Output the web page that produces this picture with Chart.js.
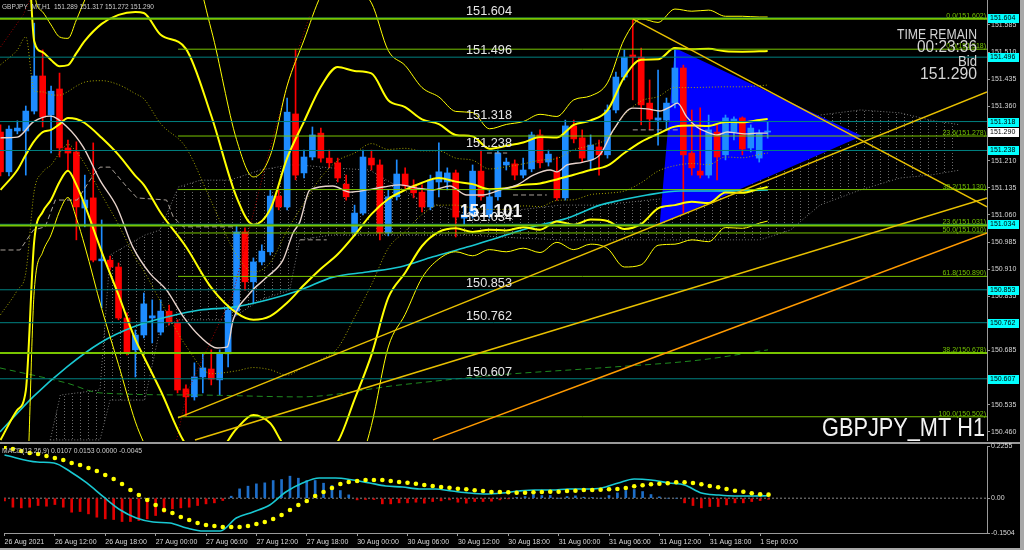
<!DOCTYPE html>
<html><head><meta charset="utf-8"><title>GBPJPY_MT H1</title>
<script src="https://cdn.jsdelivr.net/npm/chart.js@4.4.1/dist/chart.umd.min.js"></script>
<style>
html,body{margin:0;padding:0;background:#000;}
body{width:1024px;height:550px;position:relative;overflow:hidden;}
canvas{position:absolute;left:0;}
#c1{top:0;} #c2{top:441px;}
#fr{position:absolute;left:1020px;top:0;width:4px;height:550px;background:#a8a8a8;}
#fb{position:absolute;left:0;top:548px;width:1024px;height:2px;background:#a8a8a8;}
</style></head><body>
<canvas id="c1" width="1024" height="441" style="width:1024px;height:441px"></canvas>
<canvas id="c2" width="1024" height="109" style="width:1024px;height:109px"></canvas>
<div id="fr"></div><div id="fb"></div>
<script>
const FONT = '"Liberation Sans", Arial, sans-serif';
// ---------- time axis ----------
const tickIdx = [0,6,12,18,24,30,36,42,48,54,60,66,72,78,84,90];
const tickLabels = ["26 Aug 2021","26 Aug 12:00","26 Aug 18:00","27 Aug 00:00","27 Aug 06:00","27 Aug 12:00","27 Aug 18:00","30 Aug 00:00","30 Aug 06:00","30 Aug 12:00","30 Aug 18:00","31 Aug 00:00","31 Aug 06:00","31 Aug 12:00","31 Aug 18:00","1 Sep 00:00"];
const X_MIN = -0.06, X_MAX = 117.02;
// ---------- candles (H1) ----------
const opens = [151.289,151.179,151.292,151.292,151.347,151.444,151.336,151.408,151.245,151.234,151.079,151.107,150.933,150.935,150.916,150.775,150.687,150.728,150.775,150.736,150.794,150.761,150.579,150.557,150.612,150.634,150.604,150.676,150.794,151.013,150.875,150.930,150.958,151.112,151.082,151.339,151.176,151.220,151.286,151.217,151.204,151.145,151.010,151.065,151.217,151.198,151.010,151.110,151.173,151.140,151.123,151.082,151.151,151.151,151.176,151.051,151.060,151.181,151.060,151.110,151.198,151.201,151.170,151.187,151.281,151.206,151.179,151.107,151.306,151.273,151.212,151.248,151.226,151.350,151.441,151.502,151.496,151.369,151.322,151.322,151.369,151.466,151.231,151.181,151.170,151.289,151.226,151.289,151.328,151.245,151.217,151.289];
const highs = [151.309,151.306,151.320,151.361,151.590,151.516,151.416,151.452,151.267,151.262,151.170,151.259,151.046,150.946,150.927,150.789,150.742,150.844,150.825,150.825,150.811,150.770,150.590,150.651,150.678,150.687,150.687,150.811,151.032,151.024,150.941,150.977,151.129,151.129,151.383,151.518,151.239,151.303,151.300,151.239,151.217,151.170,151.087,151.239,151.239,151.212,151.129,151.212,151.190,151.157,151.143,151.170,151.259,151.190,151.184,151.087,151.198,151.239,151.129,151.239,151.217,151.212,151.217,151.289,151.295,151.239,151.220,151.322,151.322,151.295,151.281,151.267,151.364,151.455,151.516,151.602,151.521,151.433,151.460,151.383,151.516,151.474,151.350,151.356,151.336,151.309,151.336,151.331,151.331,151.309,151.295,151.317];
const lows = [151.168,151.168,151.284,151.170,151.339,151.303,151.231,151.220,151.184,150.991,151.027,150.930,150.803,150.908,150.770,150.673,150.612,150.720,150.706,150.728,150.756,150.568,150.502,150.548,150.568,150.590,150.562,150.640,150.783,150.852,150.817,150.922,150.949,151.074,151.074,151.157,151.162,151.212,151.206,151.190,151.151,151.101,151.002,151.060,151.184,150.991,151.002,151.101,151.129,151.107,151.068,151.074,151.110,151.129,150.999,151.032,151.051,151.101,151.051,151.101,151.184,151.157,151.162,151.179,151.190,151.195,151.101,151.101,151.259,151.206,151.184,151.170,151.217,151.342,151.433,151.378,151.309,151.295,151.253,151.295,151.356,151.065,151.170,151.162,151.162,151.157,151.212,151.267,151.226,151.234,151.206,151.272];
const closes = [151.179,151.297,151.300,151.347,151.444,151.331,151.402,151.245,151.231,151.082,151.101,150.935,150.938,150.916,150.775,150.681,150.728,150.814,150.781,150.794,150.764,150.576,150.557,150.612,150.637,150.606,150.676,150.797,151.013,150.875,150.930,150.960,151.112,151.082,151.344,151.170,151.220,151.281,151.217,151.204,151.162,151.110,151.065,151.220,151.198,151.010,151.110,151.173,151.140,151.121,151.082,151.157,151.179,151.176,151.054,151.060,151.181,151.110,151.110,151.231,151.206,151.170,151.184,151.281,151.204,151.228,151.107,151.306,151.270,151.217,151.253,151.226,151.350,151.441,151.496,151.496,151.364,151.325,151.328,151.369,151.466,151.226,151.190,151.170,151.295,151.220,151.328,151.325,151.242,151.300,151.286,151.290];
// ---------- Bollinger bands (read at bar positions) ----------
const bbX = [0,2,3,4,5,6,7,8,9,10,12,14,16,17,19,22,25,28,30,32,34,36,38,40,42,44,46,48,50,52,54,56,58,60,62,64,66,68,70,72,74,76,78,80,82,84,86,88,90,91];
const bbMid = [151.129,151.184,151.226,151.264,151.289,151.295,151.311,151.328,151.325,151.314,151.273,151.226,151.168,151.143,151.066,150.972,150.859,150.789,150.770,150.780,150.817,150.866,150.911,150.951,151.004,151.062,151.104,151.129,151.149,151.162,151.152,151.145,151.131,151.134,151.143,151.147,151.158,151.171,151.184,151.196,151.231,151.262,151.284,151.304,151.307,151.306,151.317,151.316,151.322,151.325];
const bbUp1 = [151.475,151.516,151.552,151.402,151.400,151.392,151.391,151.401,151.416,151.427,151.431,151.420,151.395,151.381,151.312,151.246,151.097,150.949,150.902,150.928,151.017,151.092,151.163,151.210,151.231,151.257,151.241,151.244,151.237,151.237,151.217,151.211,151.187,151.193,151.201,151.211,151.216,151.240,151.252,151.272,151.336,151.375,151.387,151.412,151.412,151.413,151.414,151.414,151.417,151.419];
const bbLo1 = [150.784,150.852,150.900,151.126,151.178,151.198,151.231,151.255,151.234,151.201,151.116,151.033,150.941,150.905,150.820,150.698,150.621,150.629,150.638,150.632,150.617,150.640,150.660,150.692,150.777,150.867,150.968,151.014,151.061,151.087,151.087,151.079,151.075,151.075,151.085,151.083,151.100,151.102,151.116,151.120,151.126,151.149,151.181,151.196,151.202,151.199,151.220,151.218,151.227,151.231];
const bbUp2 = [151.820,151.847,151.878,151.540,151.510,151.488,151.471,151.474,151.507,151.541,151.588,151.613,151.621,151.618,151.558,151.519,151.334,151.109,151.033,151.076,151.217,151.318,151.414,151.469,151.458,151.451,151.377,151.358,151.324,151.311,151.281,151.277,151.243,151.251,151.260,151.275,151.274,151.309,151.321,151.349,151.441,151.489,151.490,151.521,151.518,151.519,151.512,151.511,151.512,151.513];
const bbLo2 = [150.438,150.521,150.574,150.988,151.068,151.102,151.151,151.182,151.143,151.087,150.958,150.839,150.715,150.668,150.574,150.425,150.384,150.469,150.507,150.484,150.417,150.414,150.408,150.433,150.550,150.673,150.831,150.900,150.974,151.013,151.023,151.013,151.019,151.017,151.026,151.019,151.042,151.033,151.047,151.043,151.021,151.035,151.078,151.087,151.096,151.093,151.122,151.121,151.132,151.137];
const bbUp3 = [152.166,152.179,152.205,151.679,151.621,151.585,151.552,151.548,151.599,151.654,151.746,151.807,151.848,151.856,151.804,151.793,151.572,151.268,151.165,151.224,151.417,151.543,151.666,151.728,151.686,151.646,151.514,151.473,151.412,151.386,151.346,151.343,151.298,151.310,151.318,151.338,151.332,151.378,151.389,151.425,151.546,151.602,151.592,151.629,151.623,151.626,151.609,151.609,151.607,151.607];
const bbLo3 = [150.093,150.189,150.247,150.849,150.957,151.005,151.070,151.108,151.051,150.974,150.801,150.646,150.488,150.430,150.328,150.151,150.146,150.310,150.375,150.336,150.217,150.189,150.157,150.174,150.322,150.478,150.695,150.785,150.886,150.938,150.958,150.947,150.964,150.958,150.968,150.956,150.984,150.964,150.979,150.967,150.916,150.922,150.976,150.979,150.991,150.986,151.025,151.023,151.037,151.043];
// ---------- moving averages / ichimoku lines ----------
const maWhiteX = [0,2,3.9,5.9,7.9,9.8,11.8,13.8,15.7,17.7,19.7,21.7,23.7,25.7,26.9,27.6,29.6,31.6,33.5,34.7,35.5,36.7,39.4,41.5,43.5,45.4,47.4,49.4,51.3,53.3,55.3,57.2,59.3,61.3,63.2,65.2,66,67.2,69.1,71.1,72.7,75,76.7,78.2,79.4,80.3,81.4,82.6,83.8,85,86.2,87.4,88.6,89.7,91];
const maWhiteY = [151.273,151.275,151.317,151.333,151.303,151.248,151.156,151.082,150.971,150.899,150.852,150.778,150.723,150.692,150.695,150.770,150.844,150.888,150.935,151.010,151.040,151.129,151.140,151.123,151.129,151.137,151.143,151.134,151.129,151.140,151.115,151.115,151.129,151.143,151.170,151.184,151.179,151.198,151.206,151.226,151.295,151.355,151.353,151.347,151.358,151.369,151.331,151.303,151.289,151.281,151.289,151.286,151.284,151.286,151.286];
const maCyanX = [-0.06,3.86,7.89,11.8,15.72,19.75,23.67,27.58,31.61,35.53,39.44,43.48,47.39,51.3,55.34,59.25,63.17,67.2,71.11,72.66,76.69,80.6,84.5,91.04];
const maCyanY = [150.460,150.557,150.640,150.706,150.750,150.778,150.797,150.805,150.825,150.852,150.888,150.902,150.916,150.944,150.971,150.999,151.027,151.051,151.087,151.096,151.115,151.126,151.126,151.129];
const maGreenX = [-0.06,7.89,11.8,23.67,35.53,47.39,59.25,71.11,83.0,91.04];
const maGreenY = [150.637,150.595,150.568,150.562,150.557,150.590,150.618,150.637,150.659,150.687];
const kijunX = [0,2.3,3.9,5.3,6.5,9.1,11.0,11.8,13.0,15.0,16.2,19.7,20.5,21.65,27.6,30,35.5,38.7,48,57.7,60.1,60.5,60.8,64.8,70,75.0,80.6];
const kijunY = [150.963,150.963,151.018,151.027,151.101,151.101,151.170,151.192,151.192,151.137,151.107,151.101,151.054,151.027,151.027,null,150.991,150.991,null,151.231,151.231,null,151.115,151.115,null,151.295,151.295];
const redDotX = [0,2.7,3.5,10,20.9,22.1,27.6,31.6,34.3,35.5,36.7];
const redDotY = [151.524,151.613,151.654,null,150.438,150.568,150.844,151.212,151.441,151.530,151.613];
// ---------- cloud ----------
const cloudX = [5.9,7.1,11.8,13.0,17.1,18.9,21.1,23.7,27.2,30.8,34.3,35.5,39.1,43.8,49.8,55.7,61.6,66.4,71.1,77.0,83.0,86.5,90.1,93.7,97.2,102.0,106.7,110.3,113.8];
const cloudUpper = [150.438,150.562,150.576,150.949,151.004,151.018,151.137,151.156,151.156,151.184,151.198,151.198,151.190,151.184,151.101,151.060,151.074,151.087,151.087,151.101,151.115,151.143,151.226,151.300,151.336,151.350,151.342,151.322,151.309];
const cloudLower = [150.438,150.438,150.438,150.548,150.548,150.742,150.770,150.770,150.770,150.825,150.852,150.991,151.004,151.004,151.004,151.004,150.996,150.991,150.991,150.991,150.991,150.991,150.991,151.018,151.087,151.129,151.162,151.170,151.184];
// ---------- objects ----------
const levelValues = [151.604,151.496,151.318,151.238,151.034,150.853,150.762,150.607];
const fibValues = [151.602,151.518,151.278,151.130,151.031,151.010,150.890,150.678,150.502];
const fibLabels = ["0.0(151.602)","0.0(151.518)","23.6(151.278)","38.2(151.130)","23.6(151.031)","50.0(151.010)","61.8(150.890)","38.2(150.678)","100.0(150.502)"];
const fibFromIdx = [X_MIN,21.06,21.06,21.06,X_MIN,21.06,21.06,X_MIN,21.06];
const trendAX = [21.05,117.02], trendAY = [150.499,151.400];
const trendBX = [23.07,117.02], trendBY = [150.438,151.107];
const trendCX = [51.30,117.02], trendCY = [150.438,151.010];
const trendDX = [75.03,117.02], trendDY = [151.601,151.082];
const triX = [80.0,78.2,102.2,80.0], triY = [151.521,151.035,151.278,151.521];
const notePrice = 151.101, bidPrice = 151.290, timeRemain = "00:23:36";
const yTicks = [150.460,150.535,150.610,150.685,150.760,150.835,150.910,150.985,151.060,151.135,151.210,151.285,151.360,151.435,151.510,151.585];
// ---------- MACD ----------
const macdHist = [-0.012,-0.0389,-0.0418,-0.0389,-0.0317,-0.0346,-0.0274,-0.0389,-0.0605,-0.0576,-0.0677,-0.0821,-0.0893,-0.0922,-0.1008,-0.1008,-0.0965,-0.0893,-0.0749,-0.0605,-0.0461,-0.0418,-0.0389,-0.0317,-0.0245,-0.0202,-0.0101,0.0086,0.0403,0.0519,0.0619,0.0663,0.0763,0.0807,0.0951,0.0864,0.0763,0.0763,0.0648,0.0547,0.0331,0.0144,-0.0072,-0.0058,-0.0058,-0.0245,-0.0245,-0.0202,-0.0202,-0.0173,-0.0216,-0.0144,-0.0115,-0.0072,-0.0173,-0.0216,-0.0144,-0.0144,-0.0130,-0.0072,-0.0029,0.0029,0.0072,0.0158,0.0115,0.0115,0.0,0.0072,0.0101,0.0043,0.0029,0.0,0.0115,0.0230,0.0331,0.0375,0.0288,0.0158,0.0058,0.0,0.0,-0.0202,-0.0317,-0.0418,-0.0360,-0.0360,-0.0288,-0.0202,-0.0202,-0.0144,-0.0101,-0.0045];
const macdSignal = [0.2213,0.2126,0.2040,0.1953,0.1910,0.1824,0.1737,0.1651,0.1521,0.1435,0.1305,0.1175,0.1003,0.0830,0.0614,0.0355,0.0138,-0.0078,-0.0294,-0.0510,-0.0640,-0.0812,-0.0942,-0.1072,-0.1158,-0.1201,-0.1245,-0.1245,-0.1245,-0.1201,-0.1115,-0.1029,-0.0899,-0.0726,-0.0510,-0.0294,-0.0121,0.0095,0.0268,0.0441,0.0614,0.0700,0.0743,0.0787,0.0787,0.0787,0.0743,0.0700,0.0670,0.0627,0.0570,0.0527,0.0484,0.0454,0.0411,0.0385,0.0341,0.0311,0.0268,0.0268,0.0255,0.0238,0.0238,0.0255,0.0268,0.0281,0.0281,0.0311,0.0324,0.0354,0.0354,0.0367,0.0385,0.0398,0.0441,0.0514,0.0557,0.0601,0.0627,0.0644,0.0687,0.0687,0.0657,0.0601,0.0527,0.0471,0.0398,0.0324,0.0281,0.0212,0.0169,0.0153];
const macdLineX = [0,3.9,5.9,7.9,9.8,11.8,13.8,15.7,17.7,19.7,21.7,23.7,25.7,27.6,29.6,31.6,33.5,35.5,37.5,39.4,41.5,43.5,45.4,47.4,49.4,51.3,53.3,55.3,57.2,59.3,61.3,63.2,65.2,67.2,69.1,71.1,73.1,75.0,77.0,79.1,81.0,83.0,85.0,86.9,88.9,91.0];
const macdLineY = [0.1867,0.1564,0.1521,0.1132,0.0657,0.0052,-0.0510,-0.0856,-0.1029,-0.1072,-0.1288,-0.1418,-0.1418,-0.0856,-0.0596,-0.0294,0.0268,0.0657,0.0873,0.0873,0.0787,0.0657,0.0527,0.0484,0.0398,0.0398,0.0311,0.0225,0.0182,0.0225,0.0311,0.0354,0.0354,0.0398,0.0398,0.0441,0.0657,0.0830,0.0787,0.0657,0.0570,0.0225,0.0138,0.0095,0.0095,0.0107];
const macdTicks = [0.2255,0,-0.1504];
const macdTickLabels = ["0.2255","0.00","-0.1504"];
const macdTitle = "MACD(12,26,9) 0.0107 0.0153 0.0000 -0.0045";

// ---------- helpers ----------
const pts = (xs, ys) => xs.map((x, i) => ({x: x, y: ys[i]}));
function lineDs(xs, ys, color, width, order, extra) {
  return Object.assign({type: 'line', data: pts(xs, ys), borderColor: color, borderWidth: width,
    pointRadius: 0, fill: false, order: order, cubicInterpolationMode: 'monotone', spanGaps: false}, extra || {});
}
const UP = '#1e8cff', DOWN = '#ff0000';
const candleColor = i => closes[i] >= opens[i] ? UP : DOWN;

const tile = document.createElement('canvas'); tile.width = 8; tile.height = 3;
const tg = tile.getContext('2d'); tg.fillStyle = '#6c6c6c'; tg.fillRect(0, 0, 1, 1);
const hatch = document.getElementById('c1').getContext('2d').createPattern(tile, 'repeat');

const ds = [];
ds.push(lineDs(cloudX, cloudUpper, '#787878', 1, 100, {borderDash: [1, 2], cubicInterpolationMode: 'default', tension: 0, fill: {target: '+1'}, backgroundColor: hatch}));
ds.push(lineDs(cloudX, cloudLower, '#787878', 1, 100, {borderDash: [1, 2], cubicInterpolationMode: 'default', tension: 0}));
ds.push(lineDs(triX, triY, '#0000ff', 0, 95, {cubicInterpolationMode: 'default', tension: 0, fill: 'shape', backgroundColor: '#0000ff'}));
ds.push({type: 'bar', data: opens.map((o, i) => ({x: i, y: [lows[i], highs[i]]})), barThickness: 1, grouped: false,
  backgroundColor: c => candleColor(c.dataIndex), borderWidth: 0, order: 90});
ds.push({type: 'bar', data: opens.map((o, i) => ({x: i, y: [o, closes[i]]})), barThickness: 6, minBarLength: 1, grouped: false,
  backgroundColor: c => candleColor(c.dataIndex), borderWidth: 0, order: 89});
ds.push(lineDs(kijunX, kijunY, '#a8a098', 1, 62, {borderDash: [5, 3], cubicInterpolationMode: 'default', tension: 0}));
ds.push(lineDs(bbX, bbUp1, '#a6a600', 1, 60, {borderDash: [1, 2]}));
ds.push(lineDs(bbX, bbLo1, '#a6a600', 1, 60, {borderDash: [1, 2]}));
ds.push(lineDs(maGreenX, maGreenY, '#1f8a1f', 1, 58, {borderDash: [6, 4]}));
ds.push(lineDs(redDotX, redDotY, '#a00000', 1, 57, {borderDash: [1, 2], cubicInterpolationMode: 'default', tension: 0}));
ds.push(lineDs(maCyanX, maCyanY, '#19c8d2', 1.6, 55));
ds.push(lineDs(bbX, bbUp3, '#ffff00', 1, 52));
ds.push(lineDs(bbX, bbLo3, '#ffff00', 1, 52));
ds.push(lineDs(bbX, bbUp2, '#ffff00', 2, 50));
ds.push(lineDs(bbX, bbLo2, '#ffff00', 2, 50));
ds.push(lineDs(bbX, bbMid, '#ffff00', 2, 50));
ds.push(lineDs(maWhiteX, maWhiteY, '#e8d4cc', 1.4, 45));
levelValues.forEach(v => ds.push(lineDs([X_MIN, X_MAX], [v, v], '#008080', 1, 30)));
fibValues.forEach((v, i) => ds.push(lineDs([fibFromIdx[i], X_MAX], [v, v], '#78c400', fibFromIdx[i] === X_MIN ? 2 : 1, 29)));
ds.push(lineDs(trendAX, trendAY, '#e8c000', 1.5, 25));
ds.push(lineDs(trendBX, trendBY, '#e8c000', 1.5, 25));
ds.push(lineDs(trendCX, trendCY, '#ff9a00', 1.5, 25));
ds.push(lineDs(trendDX, trendDY, '#e8c000', 1.5, 25));

const mainOverlay = {
  id: 'mainOverlay',
  afterDraw(chart) {
    const ctx = chart.ctx, ys = chart.scales.y, ca = chart.chartArea;
    const py = v => Math.round(ys.getPixelForValue(v));
    ctx.save();
    ctx.textBaseline = 'alphabetic';
    ctx.font = '7px ' + FONT; ctx.fillStyle = '#72c000'; ctx.textAlign = 'right';
    fibValues.forEach((v, i) => ctx.fillText(fibLabels[i], ca.right - 1, py(v) - 1));
    ctx.font = '13px ' + FONT; ctx.fillStyle = '#e6e6e6'; ctx.textAlign = 'left';
    levelValues.forEach(v => ctx.fillText(v.toFixed(3), 466, py(v) - 3, 46));
    ctx.font = 'bold 18px ' + FONT; ctx.fillStyle = '#f4f4f4';
    ctx.fillText(notePrice.toFixed(3), 460, py(notePrice) + 17, 62);
    ctx.fillStyle = '#d4d4d4'; ctx.textAlign = 'right';
    ctx.font = '15px ' + FONT; ctx.fillText('TIME REMAIN', 977, 39, 80);
    ctx.font = '16px ' + FONT; ctx.fillText(timeRemain, 977, 52, 60);
    ctx.font = '15px ' + FONT; ctx.fillText('Bid', 977, 66, 19);
    ctx.font = '17px ' + FONT; ctx.fillText(bidPrice.toFixed(3), 977, 79, 57);
    ctx.font = '26px ' + FONT; ctx.fillStyle = '#f4f4f4'; ctx.fillText('GBPJPY_MT H1', 985, 436, 163);
    const n = opens.length - 1;
    ctx.font = '8px ' + FONT; ctx.fillStyle = '#cfcfcf'; ctx.textAlign = 'left';
    ctx.fillText('GBPJPY_MT,H1  ' + [opens[n], highs[n], lows[n], closes[n]].map(v => v.toFixed(3)).join(' '), 2, 9, 152);
    ctx.font = '7px ' + FONT; ctx.textBaseline = 'middle';
    const box = (v, bg) => { const p = py(v); ctx.fillStyle = bg; ctx.fillRect(ca.right + 1, p - 4, 31, 9);
      ctx.fillStyle = '#000'; ctx.fillText(v.toFixed(3), ca.right + 3, p + 0.5); };
    levelValues.forEach(v => box(v, '#00ffff'));
    box(bidPrice, '#ffffff');
    ctx.restore();
  }
};

Chart.defaults.font.family = FONT;
new Chart(document.getElementById('c1'), {
  type: 'bar',
  data: {datasets: ds},
  options: {
    responsive: false, animation: false, events: [],
    layout: {padding: 0},
    plugins: {legend: {display: false}, tooltip: {enabled: false}},
    scales: {
      x: {type: 'linear', min: X_MIN, max: X_MAX, display: false, offset: false, grid: {offset: false}},
      y: {type: 'linear', position: 'right', min: 150.435, max: 151.654,
        afterBuildTicks: s => { s.ticks = yTicks.map(v => ({value: v})); },
        afterFit: s => { s.width = 37; s.paddingTop = 0; s.paddingBottom = 0; },
        ticks: {callback: v => Number(v).toFixed(3), font: {size: 7}, color: '#d8d8d8', padding: 1, autoSkip: false},
        grid: {drawOnChartArea: false, drawTicks: true, tickLength: 3, color: '#9a9a9a'},
        border: {display: true, color: '#9a9a9a'}}
    }
  },
  plugins: [mainOverlay]
});

const macdOverlay = {
  id: 'macdOverlay',
  beforeDraw(chart) { const c = chart.ctx; c.save(); c.fillStyle = '#9a9a9a'; c.fillRect(0, 1, 1020, 2); c.restore(); },
  afterDraw(chart) { const c = chart.ctx; c.save(); c.font = '8px ' + FONT; c.fillStyle = '#cfcfcf';
    c.textAlign = 'left'; c.fillText(macdTitle, 2, 12, 140); c.restore(); }
};
new Chart(document.getElementById('c2'), {
  type: 'bar',
  data: {datasets: [
    {type: 'bar', data: macdHist.map((v, i) => ({x: i, y: v})), barThickness: 2, grouped: false, borderWidth: 0,
      backgroundColor: c => (c.raw && c.raw.y >= 0) ? '#1e6ec8' : '#e00000', order: 3},
    {type: 'line', data: pts([X_MIN, X_MAX], [0, 0]), borderColor: '#8a8a8a', borderWidth: 1, borderDash: [2, 2], pointRadius: 0, order: 4},
    {type: 'line', data: pts(macdLineX, macdLineY), borderColor: '#19c8d2', borderWidth: 1.6, pointRadius: 0, cubicInterpolationMode: 'monotone', order: 2},
    {type: 'line', data: macdSignal.map((v, i) => ({x: i, y: v})), showLine: false, pointRadius: 2.3, pointBackgroundColor: '#ffff00', pointBorderWidth: 0, borderColor: '#ffff00', order: 1}
  ]},
  options: {
    responsive: false, animation: false, events: [],
    layout: {padding: {top: 5, left: 0, right: 0, bottom: 0}},
    plugins: {legend: {display: false}, tooltip: {enabled: false}},
    scales: {
      x: {type: 'linear', min: X_MIN, max: X_MAX, offset: false, position: 'bottom',
        afterBuildTicks: s => { s.ticks = tickIdx.map(v => ({value: v})); },
        afterFit: s => { s.height = 17; s.paddingLeft = 0; s.paddingRight = 0; },
        ticks: {callback: v => tickLabels[tickIdx.indexOf(v)], align: 'start', font: {size: 7}, color: '#d8d8d8', padding: 2, autoSkip: false, maxRotation: 0},
        grid: {offset: false, drawOnChartArea: false, drawTicks: true, tickLength: 3, color: '#9a9a9a'},
        border: {display: true, color: '#9a9a9a'}},
      y: {type: 'linear', position: 'right', min: -0.1504, max: 0.2255,
        afterBuildTicks: s => { s.ticks = macdTicks.map(v => ({value: v})); },
        afterFit: s => { s.width = 37; s.paddingTop = 0; s.paddingBottom = 0; },
        ticks: {callback: v => macdTickLabels[macdTicks.indexOf(v)], font: {size: 7}, color: '#d8d8d8', padding: 1, autoSkip: false},
        grid: {drawOnChartArea: false, drawTicks: true, tickLength: 3, color: '#9a9a9a'},
        border: {display: true, color: '#9a9a9a'}}
    }
  },
  plugins: [macdOverlay]
});
</script></body></html>
